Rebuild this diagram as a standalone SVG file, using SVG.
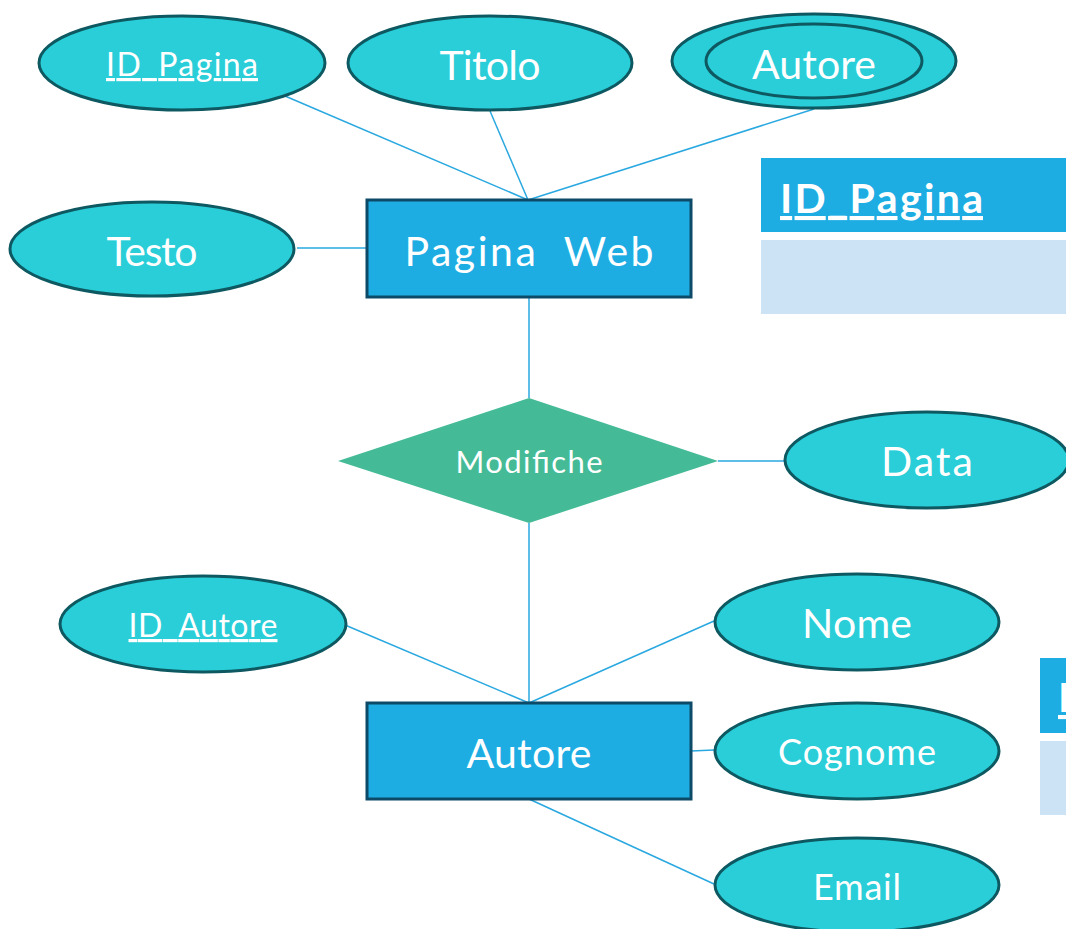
<svg xmlns="http://www.w3.org/2000/svg" width="1066" height="929" viewBox="0 0 1066 929">
<style>
.attr{fill:#29CED8;stroke:#0E5961;stroke-width:3}
.ent{fill:#1EADE3;stroke:#0D4A68;stroke-width:3}
.rel{fill:#44BB96}
.t{font-family:Lato,"Open Sans",sans-serif;fill:#FFFFFF;text-anchor:middle}
.u{text-decoration:underline}
.tb{font-family:Lato,"Open Sans",sans-serif;font-weight:bold;fill:#FFFFFF;text-decoration:underline}
.conn line{stroke:#2AA8E0;stroke-width:1.5}
.hdr{fill:#1EADE3}
.row{fill:#CCE3F5}
</style>
<rect width="1066" height="929" fill="#FFFFFF"/>
<g id="connectors" class="conn">
<line x1="285" y1="96" x2="528" y2="200"/>
<line x1="490" y1="111" x2="528" y2="200"/>
<line x1="814" y1="109" x2="528" y2="200"/>
<line x1="297" y1="248" x2="367" y2="248"/>
<line x1="529" y1="297" x2="529" y2="398"/>
<line x1="718" y1="461" x2="786" y2="461"/>
<line x1="529" y1="523" x2="529" y2="703"/>
<line x1="345" y1="625" x2="529" y2="703"/>
<line x1="714" y1="621" x2="529" y2="703"/>
<line x1="691" y1="751" x2="714" y2="750"/>
<line x1="529" y1="799" x2="714" y2="884"/>
</g>
<g id="table-pagina">
<rect class="hdr" x="761" y="158" width="305" height="74"/>
<rect class="row" x="761" y="240" width="305" height="74"/>
<text class="tb" x="780" y="213" font-size="41" textLength="203" lengthAdjust="spacing">ID_Pagina</text>
</g>
<g id="table-autore">
<rect class="hdr" x="1040" y="658" width="26" height="75"/>
<rect class="row" x="1040" y="741" width="26" height="74"/>
<text class="tb" x="1058" y="712" font-size="41">ID_Autore</text>
</g>
<g id="id-pagina">
<ellipse class="attr" cx="182" cy="63" rx="143" ry="47"/>
<text class="t u" x="182" y="76" font-size="32" textLength="152" lengthAdjust="spacing">ID_Pagina</text>
</g>
<g id="titolo">
<ellipse class="attr" cx="490" cy="63" rx="142" ry="47"/>
<text class="t" x="490" y="80" font-size="41" textLength="101" lengthAdjust="spacing">Titolo</text>
</g>
<g id="autore-attr">
<ellipse class="attr" cx="814" cy="61" rx="142" ry="47"/>
<ellipse class="attr" cx="814" cy="61" rx="108" ry="37"/>
<text class="t" x="814" y="79" font-size="41" textLength="124" lengthAdjust="spacing">Autore</text>
</g>
<g id="testo">
<ellipse class="attr" cx="152" cy="249" rx="142" ry="47"/>
<text class="t" x="152" y="266" font-size="41" textLength="91" lengthAdjust="spacing">Testo</text>
</g>
<g id="pagina-web">
<rect class="ent" x="367" y="200" width="324" height="97"/>
<text class="t" x="529" y="266" font-size="41" xml:space="preserve" textLength="249" lengthAdjust="spacing">Pagina  Web</text>
</g>
<g id="modifiche">
<polygon class="rel" points="338,461 529,398 718,461 529,523"/>
<text class="t" x="529" y="473" font-size="31" textLength="147" lengthAdjust="spacing">Modifiche</text>
</g>
<g id="data">
<ellipse class="attr" cx="927" cy="460" rx="142" ry="48"/>
<text class="t" x="927" y="476" font-size="41" textLength="92" lengthAdjust="spacing">Data</text>
</g>
<g id="id-autore">
<ellipse class="attr" cx="203" cy="624" rx="143" ry="48"/>
<text class="t u" x="203" y="637" font-size="32" textLength="149" lengthAdjust="spacing">ID_Autore</text>
</g>
<g id="nome">
<ellipse class="attr" cx="857" cy="622" rx="142" ry="48"/>
<text class="t" x="857" y="638" font-size="41" textLength="110" lengthAdjust="spacing">Nome</text>
</g>
<g id="autore">
<rect class="ent" x="367" y="703" width="324" height="96"/>
<text class="t" x="529" y="768" font-size="41" textLength="125" lengthAdjust="spacing">Autore</text>
</g>
<g id="cognome">
<ellipse class="attr" cx="857" cy="751" rx="142" ry="48"/>
<text class="t" x="857" y="765" font-size="36" textLength="158" lengthAdjust="spacing">Cognome</text>
</g>
<g id="email">
<ellipse class="attr" cx="857" cy="885" rx="142" ry="47"/>
<text class="t" x="857" y="900" font-size="36" textLength="88" lengthAdjust="spacing">Email</text>
</g>
</svg>
